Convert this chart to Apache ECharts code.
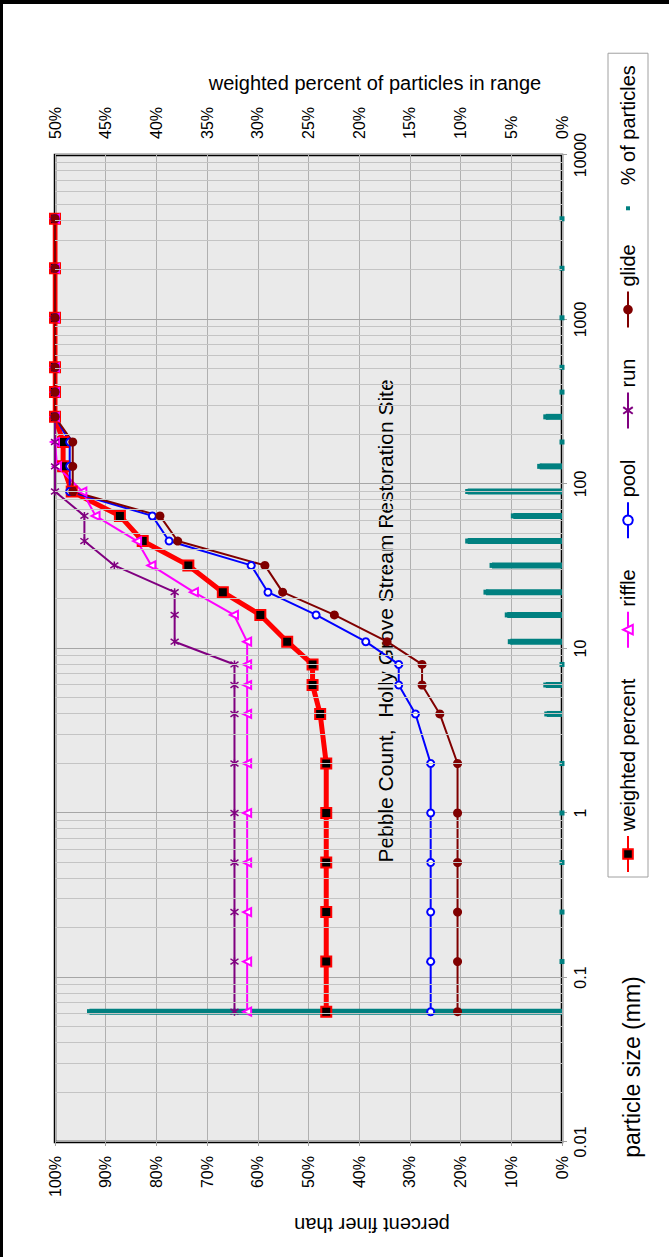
<!DOCTYPE html>
<html><head><meta charset="utf-8">
<script src="https://cdn.jsdelivr.net/npm/echarts@6/dist/echarts.min.js"></script>
<style>
html,body{margin:0;padding:0;width:669px;height:1257px;overflow:hidden;background:#fff;}
#chart{position:absolute;left:0;top:0;width:1257px;height:669px;transform-origin:0 0;transform:translate(0,1257px) rotate(-90deg);}
#frame{position:absolute;left:0;top:0;width:669px;height:1257px;border-left:3px solid #000;border-top:4px solid #000;box-sizing:border-box;pointer-events:none;}
</style></head>
<body><div id="chart"></div><div id="frame"></div>
<script>
// particle sizes (mm)
const sizes = [0.062, 0.125, 0.25, 0.5, 1, 2, 4, 6, 8, 11, 16, 22, 32, 45, 64, 90, 128, 180, 256, 362, 512, 1024, 2048, 4096];
// percent finer than
const weighted = [46.5, 46.5, 46.5, 46.5, 46.5, 46.5, 47.7, 49.2, 49.2, 54.2, 59.5, 66.9, 73.7, 82.7, 87.2, 96.7, 98.4, 98.4, 100, 100, 100, 100, 100, 100];
const riffle   = [62.1, 62.1, 62.1, 62.1, 62.1, 62.1, 62.1, 62.1, 62.1, 62.1, 64.7, 72.6, 81.0, 83.8, 92.0, 94.6, 99.6, 100, 100, 100, 100, 100, 100, 100];
const pool     = [25.9, 25.9, 25.9, 25.9, 25.9, 25.9, 28.9, 32.2, 32.2, 38.7, 48.5, 58.0, 61.3, 77.5, 80.8, 97.1, 97.1, 97.1, 100, 100, 100, 100, 100, 100];
const run      = [64.6, 64.6, 64.6, 64.6, 64.6, 64.6, 64.6, 64.6, 64.6, 76.4, 76.4, 76.4, 88.3, 94.2, 94.2, 100, 100, 100, 100, 100, 100, 100, 100, 100];
const glide    = [20.6, 20.6, 20.6, 20.6, 20.6, 20.6, 24.1, 27.6, 27.6, 34.5, 44.9, 55.1, 58.6, 75.8, 79.3, 96.5, 96.5, 96.5, 100, 100, 100, 100, 100, 100];
// weighted percent of particles in range
const particles = [46.6, 0, 0, 0, 0, 0, 1.5, 1.6, 0, 5.1, 5.4, 7.5, 6.9, 9.3, 4.8, 9.3, 2.2, 0, 1.6, 0, 0, 0, 0, 0];

const FONT = '"Liberation Sans", Arial, sans-serif';
const pair = arr => sizes.map((s, i) => [s, arr[i]]);
const minorLines = [];
for (let k = -2; k <= 3; k++) for (let m = 2; m <= 9; m++) minorLines.push({ xAxis: +(m * Math.pow(10, k)).toPrecision(6) });

const chart = echarts.init(document.getElementById('chart'), null, { renderer: 'svg', width: 1257, height: 669 });
const txt = { fontFamily: FONT, color: '#000' };
chart.setOption({
  animation: false,
  backgroundColor: '#fff',
  grid: { left: 115, top: 55, width: 987, height: 507, show: true, backgroundColor: '#eaeaea', borderColor: '#000', borderWidth: 2.5 },
  xAxis: {
    type: 'log', logBase: 10, min: 0.01, max: 10000, splitNumber: 6,
    axisLine: { show: false },
    axisTick: { show: true, length: 5, lineStyle: { color: '#a0a0a0' } },
    axisLabel: { ...txt, fontSize: 16, margin: 10, formatter: v => String(+Number(v).toPrecision(6)) },
    splitLine: { show: true, lineStyle: { color: '#a6a6a6', width: 1 } }
  },
  yAxis: [
    { type: 'value', min: 0, max: 100, interval: 10, position: 'left',
      axisLine: { show: false }, axisTick: { show: true, length: 4, lineStyle: { color: '#a0a0a0' } },
      axisLabel: { ...txt, fontSize: 16, margin: 14, formatter: '{value}%' },
      splitLine: { show: true, lineStyle: { color: '#b0b0b0', width: 1 } } },
    { type: 'value', min: 0, max: 50, interval: 5, position: 'right',
      axisLine: { show: false }, axisTick: { show: false },
      axisLabel: { ...txt, fontSize: 16, margin: 16, formatter: '{value}%' },
      splitLine: { show: false } }
  ],
  legend: {
    left: 380, top: 608, orient: 'horizontal', itemWidth: 36, itemHeight: 12, itemGap: 30,
    padding: [10, 12, 10, 4], borderColor: '#a0a0a0', borderWidth: 1, backgroundColor: '#fff',
    textStyle: { fontFamily: FONT, fontSize: 20, color: '#000' },
    data: [
      { name: 'weighted percent' }, { name: 'riffle' }, { name: 'pool' }, { name: 'run' }, { name: 'glide' },
      { name: '% of particles', icon: 'path://M0,0M12,12M4,4h4v4h-4z', itemStyle: { color: '#008080' } }
    ]
  },
  graphic: [
    { type: 'text', x: 636, y: 385, style: { text: 'Pebble Count,  Holly Grove Stream Restoration Site', font: '21px ' + FONT, fill: '#000', align: 'center', verticalAlign: 'middle' } },
    { type: 'text', x: 1174, y: 375, rotation: -Math.PI / 2, style: { text: 'weighted percent of particles in range', font: '20px ' + FONT, fill: '#000', align: 'center', verticalAlign: 'middle' } },
    { type: 'text', x: 32, y: 372, rotation: Math.PI / 2, style: { text: 'percent finer than', font: '20px ' + FONT, fill: '#000', align: 'center', verticalAlign: 'middle' } },
    { type: 'text', x: 190, y: 632, style: { text: 'particle size (mm)', font: '23px ' + FONT, fill: '#000', align: 'center', verticalAlign: 'middle' } }
  ],
  series: [
    { type: 'line', z: 1, data: pair(weighted), symbol: 'none', lineStyle: { opacity: 0 }, silent: true,
      markLine: { silent: true, symbol: 'none', label: { show: false }, lineStyle: { color: '#c4c4c4', width: 1, type: 'solid' }, data: minorLines } },
    { name: 'weighted percent', type: 'line', data: pair(weighted), symbol: 'rect', symbolSize: 10,
      lineStyle: { color: '#ff0000', width: 5 }, itemStyle: { color: '#000', borderColor: '#ff0000', borderWidth: 2 } },
    { name: 'riffle', type: 'line', data: pair(riffle), symbol: 'emptyTriangle', symbolSize: 8,
      lineStyle: { color: '#ff00ff', width: 2 }, itemStyle: { color: '#ff00ff', borderColor: '#ff00ff', borderWidth: 1.5 } },
    { name: 'pool', type: 'line', data: pair(pool), symbol: 'emptyCircle', symbolSize: 7,
      lineStyle: { color: '#0000ff', width: 2 }, itemStyle: { color: '#0000ff', borderColor: '#0000ff', borderWidth: 1.5 } },
    { name: 'run', type: 'line', data: pair(run), symbol: 'path://M-5,0L5,0M-3.5,-3.5L3.5,3.5M-3.5,3.5L3.5,-3.5', symbolSize: 8,
      lineStyle: { color: '#800080', width: 2 }, itemStyle: { color: '#800080', borderColor: '#800080', borderWidth: 1.5 } },
    { name: 'glide', type: 'line', data: pair(glide), symbol: 'circle', symbolSize: 9,
      lineStyle: { color: '#800000', width: 2 }, itemStyle: { color: '#800000' } },
    { name: '% of particles', type: 'custom', yAxisIndex: 1, data: pair(particles), itemStyle: { color: '#008080' },
      renderItem: (params, api) => {
        const s = api.value(0), v = api.value(1);
        const p0 = api.coord([s, 0]), p1 = api.coord([s, v]);
        return { type: 'group', children: [
          { type: 'rect', shape: { x: p0[0] - 3, y: p1[1], width: 6, height: p0[1] - p1[1] }, style: { fill: '#008080' } },
          { type: 'rect', shape: { x: p1[0] - 2.5, y: p1[1] - 2.5, width: 5, height: 5 }, style: { fill: '#008080' } }
        ] };
      } }
  ]
});
</script></body></html>
